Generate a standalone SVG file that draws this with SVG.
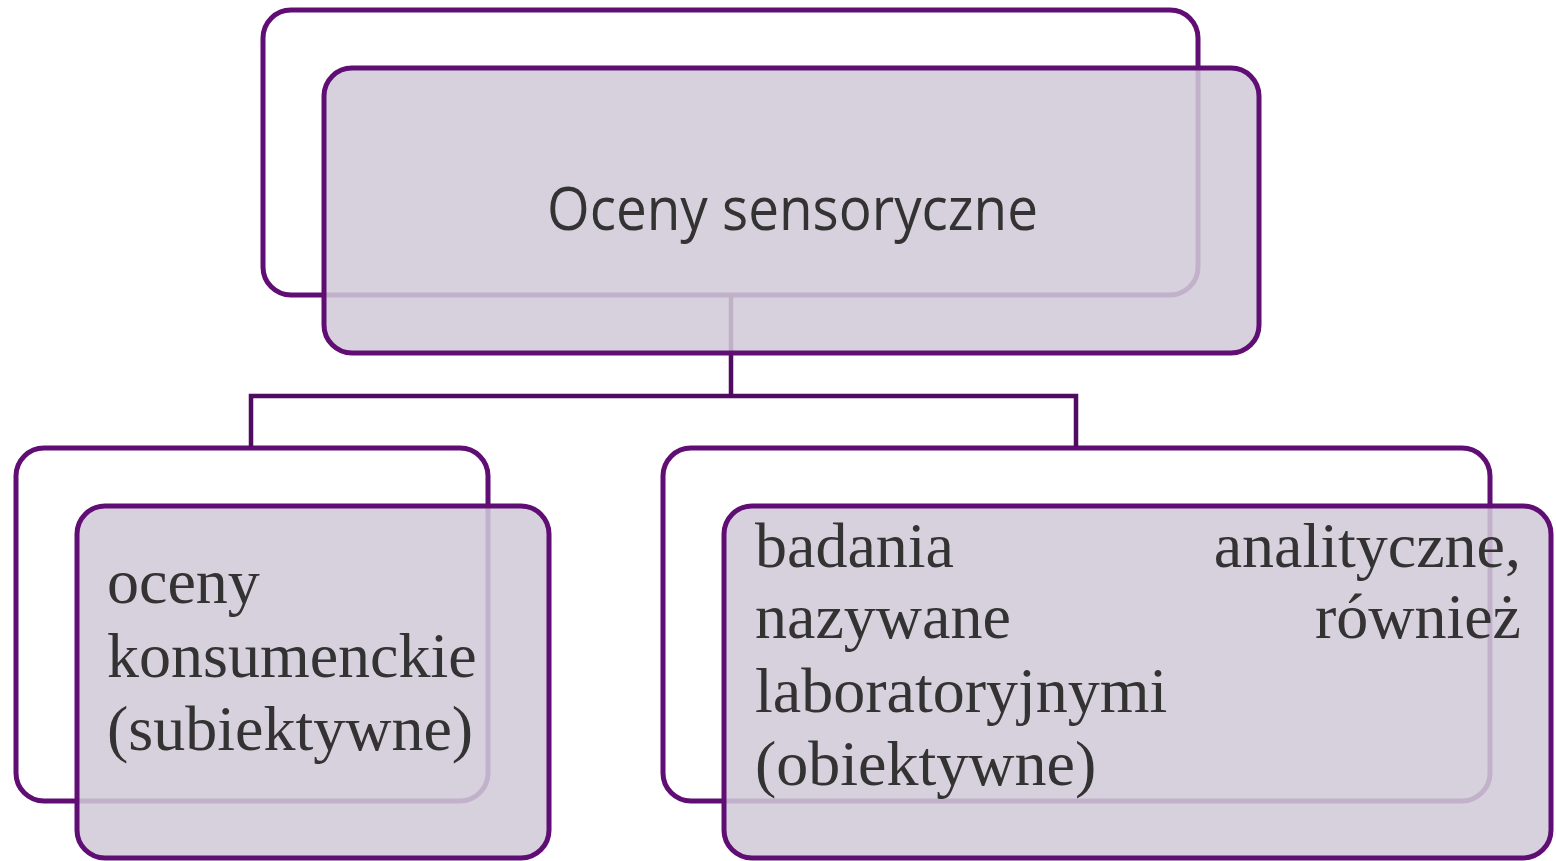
<svg xmlns="http://www.w3.org/2000/svg" width="1556" height="861" viewBox="0 0 1556 861">
<style>
.back{fill:#ffffff;stroke:#600e74;stroke-width:5}
.front{fill:rgb(209,202,216);fill-opacity:0.87;stroke:#600e74;stroke-width:5}
.conn{fill:none;stroke:#4f0c60;stroke-width:4.5}
.title{font-family:"Open Sans","Noto Sans",sans-serif;font-size:60px;fill:#333333;text-anchor:middle}
.body{font-family:"Liberation Serif","Times New Roman",serif;font-size:64px;fill:#333333}
</style>
<rect width="1556" height="861" fill="#ffffff"/>
<g id="back-rects">
<rect class="back" x="263" y="10" width="935" height="285" rx="28"/>
<rect class="back" x="16" y="448" width="472" height="353" rx="28"/>
<rect class="back" x="663" y="448" width="827" height="353" rx="28"/>
</g>
<g id="connectors">
<path class="conn" d="M731,295 V396 M251,447 V396 H1076 V447"/>
</g>
<g id="node-root">
<rect class="front" x="324" y="68" width="935" height="285" rx="28"/>
<text class="title" x="792.5" y="230" textLength="491" lengthAdjust="spacingAndGlyphs">Oceny sensoryczne</text>
</g>
<g id="node-left">
<rect class="front" x="77" y="506" width="472" height="352" rx="28"/>
<text class="body" x="107" y="603">oceny</text>
<text class="body" x="107" y="677">konsumenckie</text>
<text class="body" x="107" y="750">(subiektywne)</text>
</g>
<g id="node-right">
<rect class="front" x="724" y="506" width="827" height="352" rx="28"/>
<text class="body" x="755" y="567">badania</text>
<text class="body" x="1521" y="567" text-anchor="end">analityczne,</text>
<text class="body" x="755" y="638">nazywane</text>
<text class="body" x="1521" y="638" text-anchor="end">również</text>
<text class="body" x="755" y="712">laboratoryjnymi</text>
<text class="body" x="755" y="785">(obiektywne)</text>
</g>
</svg>
